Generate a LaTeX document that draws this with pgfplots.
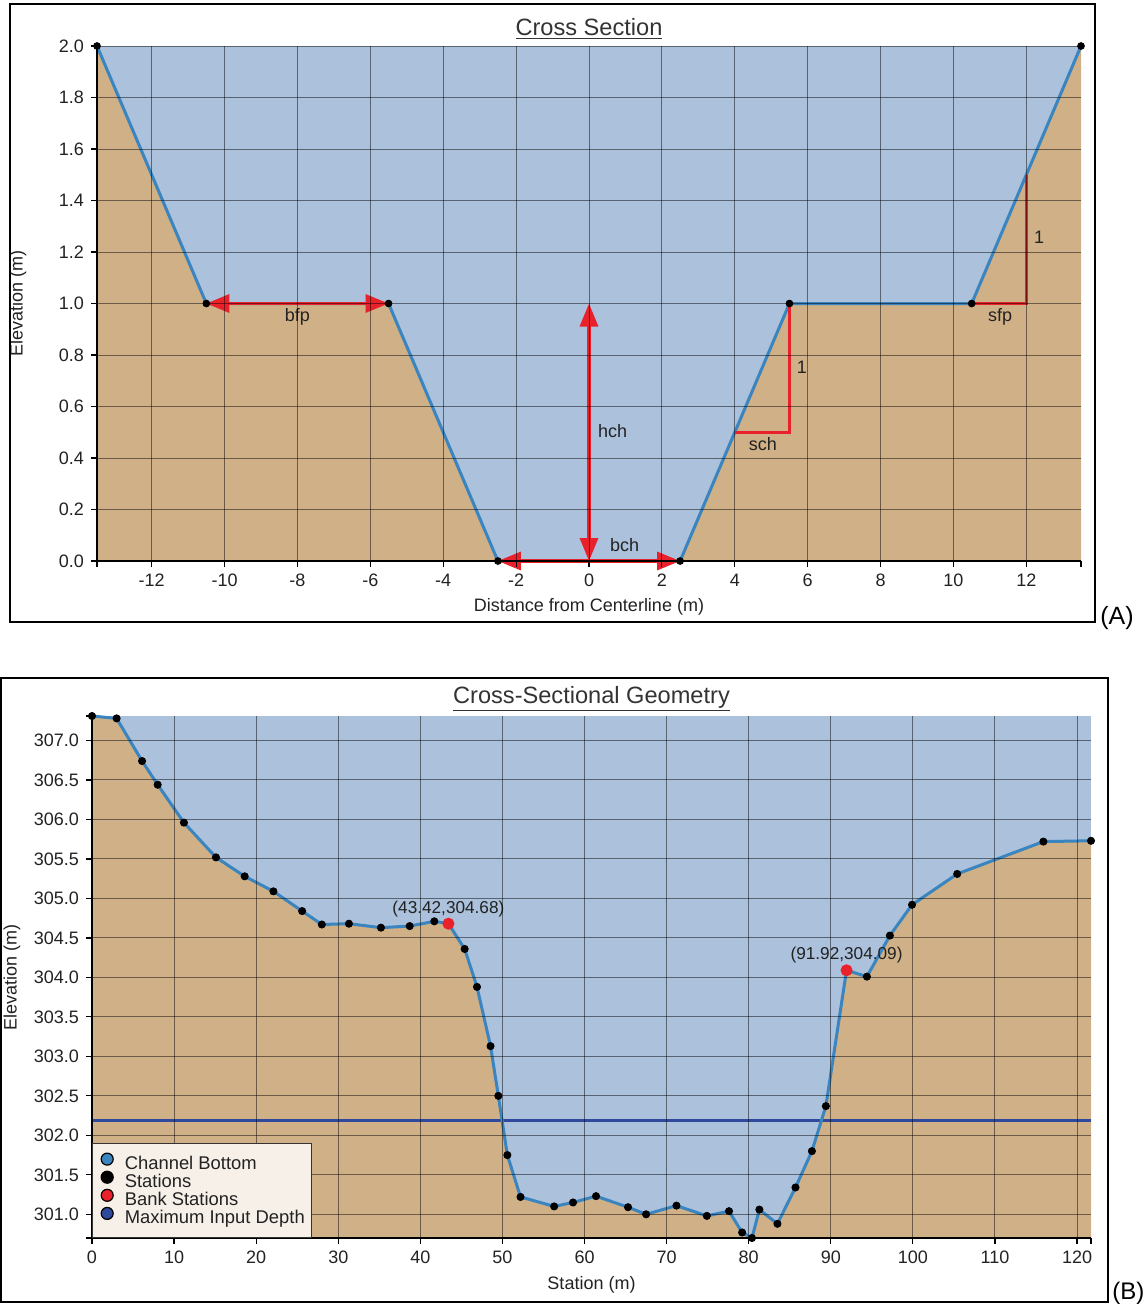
\documentclass[border=0pt]{standalone}
\usepackage{fontspec}
\setmainfont{Liberation Sans}
\usepackage{pgfplots}
\usepackage{pgfplotstable}
\pgfplotsset{compat=1.18}
\usetikzlibrary{arrows.meta}
\definecolor{waterF}{HTML}{ABC1DC}
\definecolor{soilF}{HTML}{CFB087}
\definecolor{profC}{HTML}{3A85BF}
\definecolor{annR}{HTML}{E8212B}
\definecolor{depthC}{HTML}{2F4A9C}
\definecolor{legF}{HTML}{F7F0E8}
\definecolor{txt}{HTML}{222222}

\pgfplotstableread{
x y
0 307.31
3.0 307.28
6.1 306.74
8.0 306.44
11.2 305.96
15.1 305.52
18.6 305.28
22.1 305.09
25.6 304.84
28.0 304.67
31.3 304.68
35.2 304.63
38.7 304.65
41.7 304.71
43.42 304.68
45.4 304.36
46.9 303.88
48.55 303.13
49.5 302.50
50.6 301.75
52.2 301.22
56.3 301.10
58.6 301.15
61.4 301.23
65.3 301.09
67.5 301.00
71.2 301.11
74.9 300.98
77.6 301.04
79.2 300.77
80.4 300.70
81.3 301.06
83.5 300.88
85.7 301.34
87.7 301.80
89.4 302.37
91.92 304.09
94.4 304.01
97.2 304.53
99.9 304.92
105.4 305.31
115.9 305.72
121.7 305.73
}\profB

% same profile closed along the bottom of the plot, for the ground fill
\pgfplotstableread{
x y
0 307.31
3.0 307.28
6.1 306.74
8.0 306.44
11.2 305.96
15.1 305.52
18.6 305.28
22.1 305.09
25.6 304.84
28.0 304.67
31.3 304.68
35.2 304.63
38.7 304.65
41.7 304.71
43.42 304.68
45.4 304.36
46.9 303.88
48.55 303.13
49.5 302.50
50.6 301.75
52.2 301.22
56.3 301.10
58.6 301.15
61.4 301.23
65.3 301.09
67.5 301.00
71.2 301.11
74.9 300.98
77.6 301.04
79.2 300.77
80.4 300.70
81.3 301.06
83.5 300.88
85.7 301.34
87.7 301.80
89.4 302.37
91.92 304.09
94.4 304.01
97.2 304.53
99.9 304.92
105.4 305.31
115.9 305.72
121.7 305.73
121.7 300.70
0 300.70
}\soilB

\pgfplotsset{
  common/.style={
    scale only axis,
    axis on top,
    axis x line*=bottom, axis y line*=left,
    tick align=outside,
    major tick length=3pt,
    tick style={black, line width=0.6pt},
    axis line style={black, line width=0.7pt},
    grid=major,
    major grid style={black, opacity=0.48, line width=0.5pt},
    axis background/.style={fill=waterF},
    /pgf/number format/assume math mode=true,
    ticklabel style={font=\fontsize{9}{10}\selectfont, text=txt},
    label style={font=\fontsize{9}{10}\selectfont, text=txt},
    title style={font=\fontsize{11.8}{13}\selectfont, text=black!80, anchor=center},
    extra tick style={grid=none},
    clip=false,
  },
  dotleg/.style={legend image code/.code={\path (0pt,-1pt) (12pt,6pt); \fill[##1] (4pt,2.9pt) circle (3pt);}},
}

\begin{document}
\begin{tikzpicture}
\path[use as bounding box] (0pt,0pt) rectangle (572.5pt,-653pt);

% ---------------- Panel A ----------------
\begin{axis}[common,
  at={(48.5pt,-280.5pt)}, anchor=south west,
  width=492pt, height=257.5pt,
  xmin=-13.5, xmax=13.5, ymin=0, ymax=2,
  xtick={-12,-10,-8,-6,-4,-2,0,2,4,6,8,10,12},
  ytick={0,0.2,0.4,0.6,0.8,1.0,1.2,1.4,1.6,1.8,2.0},
  yticklabel style={/pgf/number format/fixed, /pgf/number format/fixed zerofill, /pgf/number format/precision=1},
  extra x ticks={-13.5,13.5}, extra x tick labels={},
  title={\underline{Cross Section}},
  title style={at={(0.5,1)}, yshift=2.5pt},
  xlabel={Distance from Centerline (m)},
  ylabel={Elevation (m)},
  xlabel style={at={(0.5,-0.0893)}, anchor=center},
  ylabel style={at={(-0.0803,0.5)}, anchor=center},
]
\addplot[fill=soilF, draw=none, forget plot]
  coordinates {(-13.5,2)(-10.5,1)(-5.5,1)(-2.5,0)(2.5,0)(5.5,1)(10.5,1)(13.5,2)(13.5,0)(-13.5,0)};
\addplot[profC, line width=1.5pt, forget plot]
  coordinates {(-13.5,2)(-10.5,1)(-5.5,1)(-2.5,0)(2.5,0)(5.5,1)(10.5,1)(13.5,2)};
\addplot[annR, line width=1.6pt, <->, >={Triangle[length=11.5pt,width=9pt]}, forget plot]
  coordinates {(-10.5,1)(-5.5,1)};
\addplot[annR, line width=1.6pt, <->, >={Triangle[length=11.5pt,width=9pt]}, forget plot]
  coordinates {(0,0)(0,1)};
\addplot[annR, line width=1.6pt, <->, >={Triangle[length=11.5pt,width=9pt]}, forget plot]
  coordinates {(-2.5,0)(2.5,0)};
\addplot[annR, line width=1.6pt, forget plot]
  coordinates {(4,0.5)(5.5,0.5)(5.5,1)};
\addplot[annR, line width=1.6pt, forget plot]
  coordinates {(10.5,1)(12,1)(12,1.5)};
\addplot[only marks, mark=*, mark size=1.7pt, black, forget plot]
  coordinates {(-13.5,2)(-10.5,1)(-5.5,1)(-2.5,0)(2.5,0)(5.5,1)(10.5,1)(13.5,2)};
\node[font=\fontsize{9}{10}\selectfont, text=txt] at (axis cs:-8,0.95) {bfp};
\node[font=\fontsize{9}{10}\selectfont, text=txt] at (axis cs:0.65,0.505) {hch};
\node[font=\fontsize{9}{10}\selectfont, text=txt] at (axis cs:0.98,0.06) {bch};
\node[font=\fontsize{9}{10}\selectfont, text=txt] at (axis cs:4.77,0.455) {sch};
\node[font=\fontsize{9}{10}\selectfont, text=txt] at (axis cs:5.84,0.753) {1};
\node[font=\fontsize{9}{10}\selectfont, text=txt] at (axis cs:11.28,0.95) {sfp};
\node[font=\fontsize{9}{10}\selectfont, text=txt] at (axis cs:12.35,1.258) {1};
\end{axis}

% ---------------- Panel B ----------------
\begin{axis}[common,
  at={(46pt,-619pt)}, anchor=south west,
  width=499.5pt, height=261pt,
  xmin=0, xmax=121.7, ymin=300.70, ymax=307.31,
  xtick={0,10,20,30,40,50,60,70,80,90,100,110,120},
  ytick={301,301.5,302,302.5,303,303.5,304,304.5,305,305.5,306,306.5,307},
  yticklabel style={/pgf/number format/fixed, /pgf/number format/fixed zerofill, /pgf/number format/precision=1},
  extra x ticks={121.7}, extra x tick labels={},
  extra y ticks={300.70,307.31}, extra y tick labels={},
  title={\underline{Cross-Sectional Geometry}},
  title style={at={(0.5,1)}, yshift=2.5pt},
  xlabel={Station (m)},
  ylabel={Elevation (m)},
  xlabel style={at={(0.5,-0.090)}, anchor=center},
  ylabel style={at={(-0.080,0.5)}, anchor=center},
  legend style={at={(0,0)}, anchor=south west, fill=legF, draw=black!80, line width=0.6pt,
    font=\fontsize{9.2}{10}\selectfont, text=txt, inner xsep=3pt, inner ysep=4.6pt,
    row sep=-1.75pt, nodes={inner sep=0.5pt, text height=6.3pt, text depth=1.7pt},
    /tikz/every even column/.append style={column sep=0pt}},
  legend cell align=left,
]
\addplot[fill=soilF, draw=none, forget plot] table {\soilB};
\addplot[depthC, line width=1.2pt, forget plot] coordinates {(0,302.19)(121.7,302.19)};
\addplot[profC, line width=1.5pt, forget plot] table {\profB};
\addplot[only marks, mark=*, mark size=1.8pt, black, forget plot] table {\profB};
\addplot[only marks, mark=*, mark size=2.8pt, annR, forget plot] coordinates {(43.42,304.68)(91.92,304.09)};
\node[font=\fontsize{8.6}{10}\selectfont, text=txt, yshift=7.5pt] at (axis cs:43.42,304.68) {(43.42,304.68)};
\node[font=\fontsize{8.6}{10}\selectfont, text=txt, yshift=7.5pt] at (axis cs:91.92,304.09) {(91.92,304.09)};
\addlegendimage{dotleg, fill=profC}
\addlegendentry{Channel Bottom}
\addlegendimage{dotleg, fill=black}
\addlegendentry{Stations}
\addlegendimage{dotleg, fill=annR}
\addlegendentry{Bank Stations}
\addlegendimage{dotleg, fill=depthC}
\addlegendentry{Maximum Input Depth}
\end{axis}

\draw[line width=1pt] (5pt,-2pt) rectangle (547.5pt,-311pt);
\node[font=\fontsize{12.5}{14}\selectfont, anchor=west, inner sep=0pt] at (550pt,-309pt) {(A)};
\draw[line width=1pt] (0.5pt,-339pt) rectangle (554pt,-651pt);
\node[font=\fontsize{12}{14}\selectfont, anchor=west, inner sep=0pt] at (556pt,-646.5pt) {(B)};
\end{tikzpicture}
\end{document}
